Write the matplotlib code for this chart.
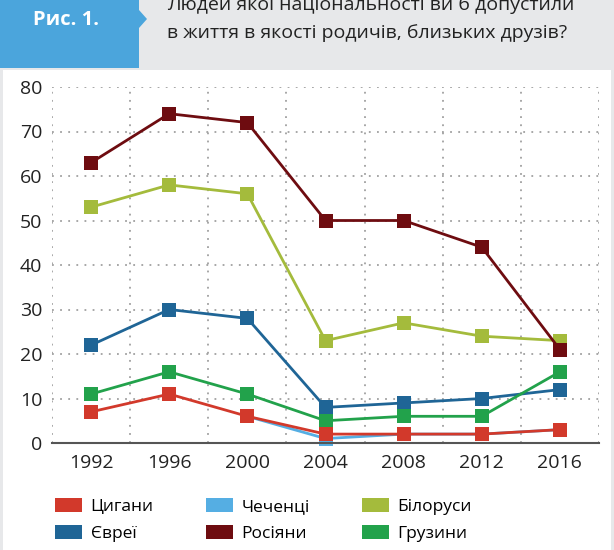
import numpy as np
import matplotlib
matplotlib.use('Agg')
import matplotlib.pyplot as plt
from matplotlib.patches import Rectangle, Polygon

plt.rcParams['font.family'] = ['Open Sans', 'DejaVu Sans']

# data
years = [1992, 1996, 2000, 2004, 2008, 2012, 2016]
chechens = [np.nan, np.nan, 6, 1, 2, 2, 3]
jews = [22, 30, 28, 8, 9, 10, 12]
georgians = [11, 16, 11, 5, 6, 6, 16]
gypsies = [7, 11, 6, 2, 2, 2, 3]
belarusians = [53, 58, 56, 23, 27, 24, 23]
russians = [63, 74, 72, 50, 50, 44, 21]

# drawing order bottom -> top
series = [
    ('Чеченці', chechens, '#55aee3'),
    ('Євреї', jews, '#1f6596'),
    ('Грузини', georgians, '#22a24b'),
    ('Цигани', gypsies, '#d2392b'),
    ('Білоруси', belarusians, '#a4bb3c'),
    ('Росіяни', russians, '#6e0c10'),
]
# legend fills column by column
legend_order = ['Цигани', 'Євреї', 'Чеченці', 'Росіяни', 'Білоруси', 'Грузини']

W, H = 614, 550
fig = plt.figure(figsize=(W / 100, H / 100), dpi=100)
fig.patch.set_facecolor('#e7e8ea')

# white panel
fig.patches.append(Rectangle((3 / W, 0), 608 / W, 1 - 70 / H, transform=fig.transFigure,
                             facecolor='white', edgecolor='none', zorder=-10))
# blue label box with arrow
fig.patches.append(Polygon([(0, 1), (139 / W, 1), (139 / W, 1 - 10 / H), (147 / W, 1 - 19 / H),
                            (139 / W, 1 - 28 / H), (139 / W, 1 - 68 / H), (0, 1 - 68 / H)],
                           closed=True, transform=fig.transFigure,
                           facecolor='#4ba5dc', edgecolor='none', zorder=-5))
fig.text(66 / W, 1 - 20 / H, 'Рис. 1.', color='white', fontsize=14.5, fontweight='bold',
         ha='center', va='center')
fig.text(167 / W, 1 - 5 / H, 'Людей якої національності ви б допустили', color='#222222',
         fontsize=14, ha='left', va='center')
fig.text(167 / W, 1 - 33 / H, 'в життя в якості родичів, близьких друзів?', color='#222222',
         fontsize=14, ha='left', va='center')

ax = fig.add_axes([52 / W, 1 - 443 / H, 547 / W, 356 / H])
ax.set_facecolor('none')

for name, vals, color in series:
    ax.plot(years, vals, color=color, lw=2, marker='s', markersize=10.5,
            markeredgewidth=0, clip_on=False, label=name)

ax.set_xlim(1990, 2018)
ax.set_ylim(0, 80)
ax.set_xticks(years)
ax.set_yticks(range(0, 81, 10))
ax.set_xticks(range(1990, 2019, 4), minor=True)
ax.grid(False)
ax.xaxis.grid(True, which='minor', linestyle=(0, (1, 3.5)), color='#a0a0a0', lw=1.3)
for yv in range(10, 81, 10):
    ax.axhline(yv, linestyle=(0, (1, 3.5)), color='#a0a0a0', lw=1.3, zorder=0)
ax.tick_params(which='both', length=0, labelsize=14, colors='#222222')
ax.tick_params(axis='x', pad=8)
ax.tick_params(axis='y', pad=7)
for s in ['top', 'right', 'left']:
    ax.spines[s].set_visible(False)
ax.spines['bottom'].set_color('#555555')
ax.spines['bottom'].set_linewidth(1.5)

# legend
handles = {name: Rectangle((0, 0), 1, 1, facecolor=color) for name, vals, color in series}
fig.legend([handles[n] for n in legend_order], legend_order, ncol=3, loc='upper left',
           bbox_to_anchor=(55 / W, 1 - 498 / H), borderaxespad=0, borderpad=0,
           frameon=False, fontsize=12.5,
           handlelength=1.55, handleheight=0.85, columnspacing=3.0, labelspacing=0.6,
           handletextpad=0.5)

fig.savefig('out.png', dpi=100, facecolor=fig.get_facecolor())
